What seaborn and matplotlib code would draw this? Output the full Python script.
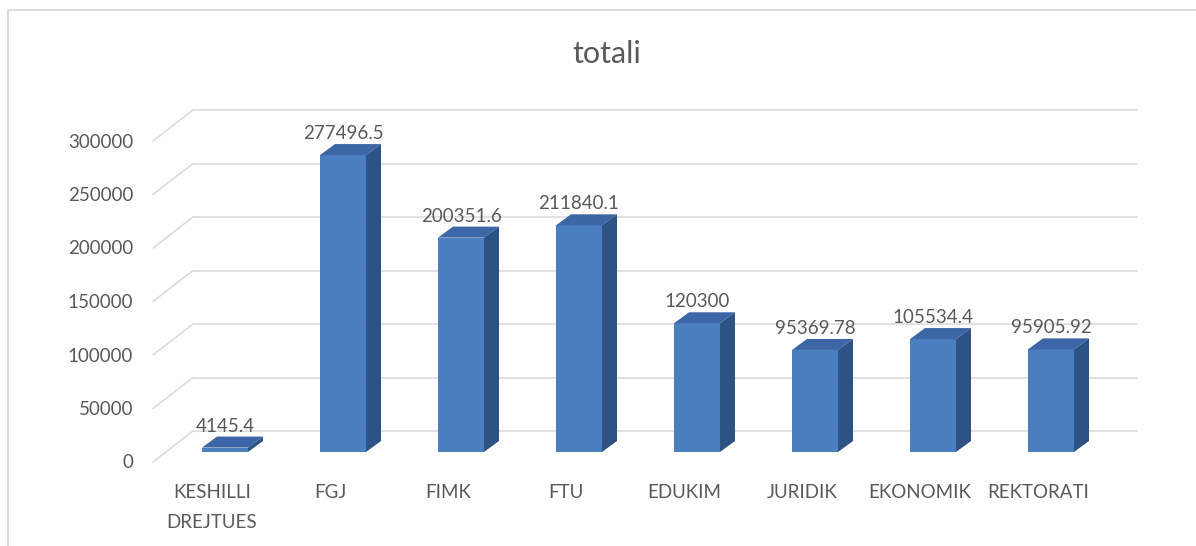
import matplotlib
matplotlib.use("Agg")
import matplotlib.pyplot as plt
from matplotlib.patches import Polygon
from matplotlib.lines import Line2D
from matplotlib.font_manager import FontProperties
import seaborn as sns
import pandas as pd

categories = ["KESHILLI\nDREJTUES", "FGJ", "FIMK", "FTU", "EDUKIM", "JURIDIK", "EKONOMIK", "REKTORATI"]
values = [4145.4, 277496.5, 200351.6, 211840.1, 120300, 95369.78, 105534.4, 95905.92]
yticks = [0, 50000, 100000, 150000, 200000, 250000, 300000]
title = "totali"

sns.set_theme(style="white")
FAMILY = ['Lato', 'DejaVu Sans']
plt.rcParams['font.family'] = FAMILY

TXT = "#595959"
GRID = "#d9d9d9"
FRONT = "#4a7ebf"
TOP = "#3c66a5"
SIDE = "#2f5285"
FS = 13.5

W, H = 1196, 546
fig = plt.figure(figsize=(W / 100, H / 100), dpi=100)
fig.patch.set_facecolor("white")

# bar front plane in pixels
left_px, right_px = 166, 1110
bottom_px, top_px = 452, 131
ax = fig.add_axes([left_px / W, 1 - bottom_px / H, (right_px - left_px) / W, (bottom_px - top_px) / H])
ax.set_facecolor("none")

df = pd.DataFrame({"cat": categories, "val": values})
sns.barplot(data=df, x="cat", y="val", color=FRONT, saturation=1, width=0.39,
            errorbar=None, linewidth=0, ax=ax, zorder=3)
ax.set_xlim(-0.5, len(categories) - 0.5)
ax.set_ylim(0, 300000)
for s in ax.spines.values():
    s.set_visible(False)
ax.set_xticks([])
ax.set_yticks([])
ax.set_xlabel("")
ax.set_ylabel("")

px_x = (right_px - left_px) / len(categories)   # pixels per x unit
px_y = (bottom_px - top_px) / 300000              # pixels per y unit

def off(dxp, dyp):
    return dxp / px_x, dyp / px_y

# gridlines: front floor -> back wall
fx, fy = off(-13, -10)
bx, by = off(27, 21)
x_lo, x_hi = -0.5, len(categories) - 0.5
for v in yticks:
    ax.add_line(Line2D([x_lo + fx, x_lo + bx], [v + fy, v + by], color=GRID, lw=1.1,
                       clip_on=False, zorder=1))
    ax.add_line(Line2D([x_lo + bx, x_hi + bx], [v + by, v + by], color=GRID, lw=1.1,
                       clip_on=False, zorder=1))
    ax.annotate(f"{v}", xy=(x_lo, v), xytext=(-33 * 0.72, -16.5 * 0.72), textcoords="offset points",
                ha="right", va="baseline", fontsize=FS, color=TXT, annotation_clip=False)

# 3D faces for bars
ddx, ddy = off(15, 11)
for p in ax.patches:
    x0, w, h = p.get_x(), p.get_width(), p.get_height()
    top = Polygon([(x0, h), (x0 + w, h), (x0 + w + ddx, h + ddy), (x0 + ddx, h + ddy)],
                  closed=True, facecolor=TOP, edgecolor="none", clip_on=False, zorder=3)
    side = Polygon([(x0 + w, 0), (x0 + w + ddx, ddy), (x0 + w + ddx, h + ddy), (x0 + w, h)],
                   closed=True, facecolor=SIDE, edgecolor="none", clip_on=False, zorder=3)
    ax.add_patch(top)
    ax.add_patch(side)
    p.set_clip_on(False)

# data labels
for i, v in enumerate(values):
    ax.annotate(f"{v:.10g}", xy=(i, v), xytext=(0, 16 * 0.72), textcoords="offset points",
                ha="center", va="baseline", fontsize=FS, color=TXT, annotation_clip=False)

# category labels: first baseline 46 px below floor of bars, 27 px line pitch
renderer = fig.canvas.get_renderer()
fp = FontProperties(family=FAMILY, size=FS)
_, lp_h, lp_d = renderer.get_text_width_height_descent("lp", fp, ismath=False)
asc = lp_h - lp_d
ls = 27.0 / asc
for i, c in enumerate(categories):
    ax.annotate(c, xy=(i, 0), xytext=(-13 * 0.72, -(46 - asc) * 0.72), textcoords="offset points",
                ha="center", va="top", multialignment="center", linespacing=ls,
                fontsize=FS, color=TXT, annotation_clip=False)

fig.text(607 / W, 1 - 63 / H, title, ha="center", va="baseline", fontsize=22, color=TXT)

# chart border (cropped)
fig.add_artist(Line2D([8 / W, 1], [1 - 10 / H, 1 - 10 / H], color=GRID, lw=1.3))
fig.add_artist(Line2D([8 / W, 8 / W], [0, 1 - 10 / H], color=GRID, lw=1.3))

fig.savefig("out.png", dpi=100, facecolor="white")
